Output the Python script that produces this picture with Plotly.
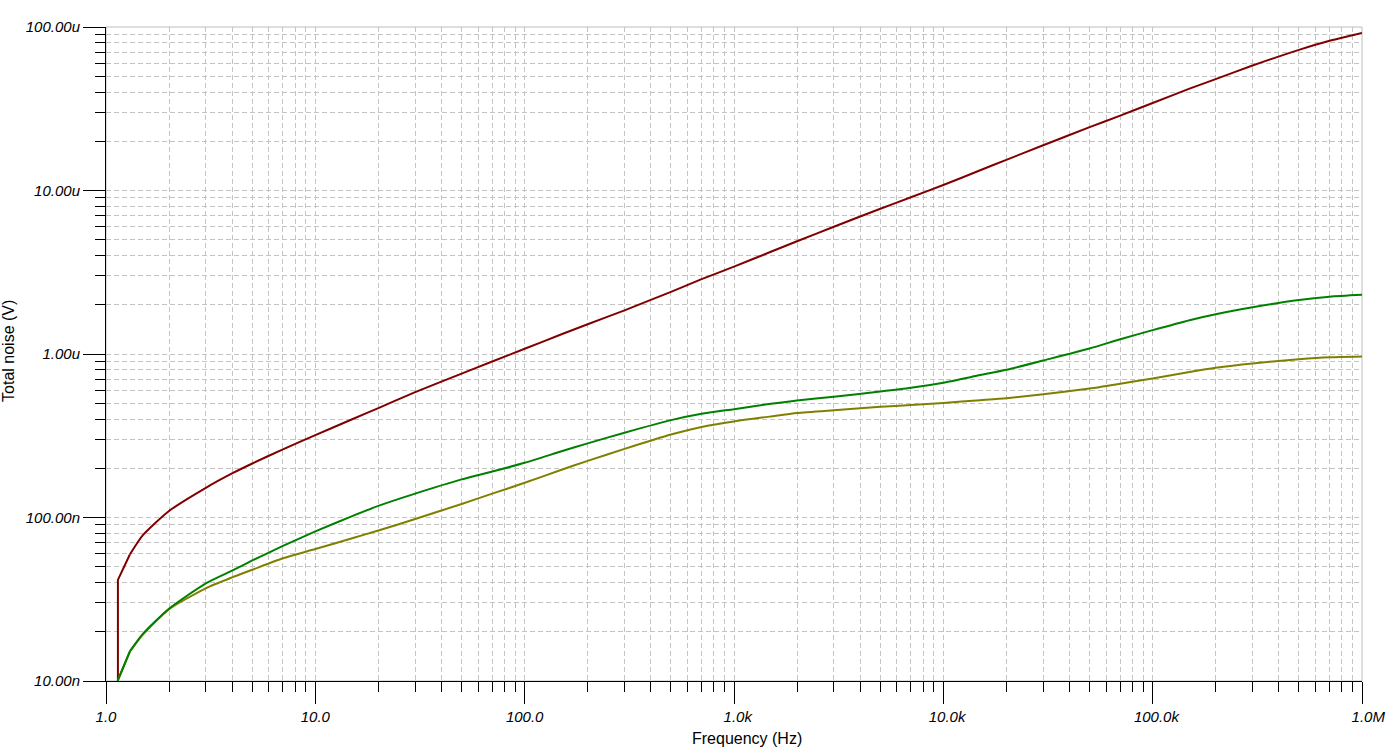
import plotly.graph_objects as go

# ---- data ----
freq_hz = [1.14, 1.14, 1.3, 1.5, 2, 3, 4, 5, 7,
           10, 15, 20, 30, 50, 70,
           100, 150, 200, 300, 500, 700,
           1e3, 1.5e3, 2e3, 3e3, 5e3, 7e3,
           1e4, 1.5e4, 2e4, 3e4, 5e4, 7e4,
           1e5, 1.5e5, 2e5, 3e5, 5e5, 7e5,
           1e6]

noise_red = [1e-9, 4.15e-8, 5.94e-8, 7.80e-8, 1.097e-7, 1.52e-7, 1.86e-7, 2.14e-7, 2.61e-7,
             3.19e-7, 3.99e-7, 4.67e-7, 5.84e-7, 7.59e-7, 9.0e-7,
             1.076e-6, 1.32e-6, 1.52e-6, 1.85e-6, 2.40e-6, 2.87e-6,
             3.42e-6, 4.22e-6, 4.89e-6, 6.0e-6, 7.73e-6, 9.10e-6,
             1.08e-5, 1.33e-5, 1.54e-5, 1.89e-5, 2.44e-5, 2.87e-5,
             3.43e-5, 4.20e-5, 4.80e-5, 5.81e-5, 7.25e-5, 8.24e-5,
             9.20e-5]

noise_green = [1e-9, 1.014e-8, 1.52e-8, 1.94e-8, 2.77e-8, 3.96e-8, 4.73e-8, 5.46e-8, 6.70e-8,
               8.22e-8, 1.02e-7, 1.178e-7, 1.40e-7, 1.71e-7, 1.91e-7,
               2.16e-7, 2.54e-7, 2.84e-7, 3.30e-7, 3.94e-7, 4.31e-7,
               4.60e-7, 4.96e-7, 5.19e-7, 5.48e-7, 5.89e-7, 6.21e-7,
               6.68e-7, 7.43e-7, 8.0e-7, 9.12e-7, 1.08e-6, 1.23e-6,
               1.40e-6, 1.61e-6, 1.75e-6, 1.93e-6, 2.14e-6, 2.24e-6,
               2.30e-6]

noise_olive = [1e-9, 1.01e-8, 1.51e-8, 1.92e-8, 2.75e-8, 3.69e-8, 4.30e-8, 4.79e-8, 5.63e-8,
               6.41e-8, 7.47e-8, 8.32e-8, 9.79e-8, 1.21e-7, 1.40e-7,
               1.63e-7, 1.96e-7, 2.22e-7, 2.63e-7, 3.22e-7, 3.58e-7,
               3.87e-7, 4.15e-7, 4.35e-7, 4.53e-7, 4.75e-7, 4.88e-7,
               5.02e-7, 5.22e-7, 5.37e-7, 5.67e-7, 6.15e-7, 6.58e-7,
               7.09e-7, 7.77e-7, 8.24e-7, 8.76e-7, 9.29e-7, 9.55e-7,
               9.66e-7]

x_tick_vals = [1, 10, 100, 1e3, 1e4, 1e5, 1e6]
x_tick_nums = ["1.0", "10.0", "100.0", "1.0", "10.0", "100.0", "1.0"]
x_tick_suffix = ["", "", "", "k", "k", "k", "M"]
y_tick_vals = [1e-8, 1e-7, 1e-6, 1e-5, 1e-4]
y_tick_text = ["10.00n", "100.00n", "1.00u", "10.00u", "100.00u"]

x_title = "Frequency (Hz)"
y_title = "Total noise (V)"

# ---- styling ----
FONT = "Liberation Sans, Arial, sans-serif"
GRID = "#c4c4c4"
DASH = "5px,3px"

# number part centred on the tick, unit suffix appended (invisible copy in front)
x_tick_text = [
    (f'<span style="color:rgba(0,0,0,0)">{s}</span>{n}{s}' if s else n)
    for n, s in zip(x_tick_nums, x_tick_suffix)
]

x_minor = [k * 10 ** e for e in range(0, 6) for k in range(2, 10)]
y_minor = [k * 10.0 ** e for e in range(-8, -4) for k in range(2, 10)]

fig = go.Figure()
for vals, col in [(noise_red, "#800000"), (noise_olive, "#808000"), (noise_green, "#008000")]:
    # start of the sweep (vertical rise from zero), drawn straight
    fig.add_trace(go.Scatter(x=freq_hz[:3], y=vals[:3], mode="lines",
                             line=dict(color=col, width=2), showlegend=False,
                             hoverinfo="skip"))
    # rest of the curve, smoothed
    fig.add_trace(go.Scatter(x=freq_hz[2:], y=vals[2:], mode="lines",
                             line=dict(color=col, width=2, shape="spline", smoothing=0.6),
                             showlegend=False))

tickfont = dict(family=FONT, size=15, color="#000000", style="italic")

common = dict(
    tickmode="array", tickfont=tickfont,
    ticks="outside", ticklen=22, tickwidth=1, tickcolor="black",
    showline=True, linecolor="black", linewidth=1,
    showgrid=True, gridcolor=GRID, griddash=DASH, gridwidth=1,
    zeroline=False,
)
fig.update_xaxes(
    type="log", range=[0, 6], tickvals=x_tick_vals, ticktext=x_tick_text,
    minor=dict(tickmode="array", tickvals=x_minor, ticks="outside", ticklen=10,
               tickwidth=1, tickcolor="black", showgrid=True, gridcolor=GRID,
               griddash=DASH, gridwidth=1),
    **common,
)
fig.update_yaxes(
    type="log", range=[-8, -4], tickvals=y_tick_vals, ticktext=y_tick_text,
    minor=dict(tickmode="array", tickvals=y_minor, ticks="outside", ticklen=10,
               tickwidth=1, tickcolor="black", showgrid=True, gridcolor=GRID,
               griddash=DASH, gridwidth=1),
    **common,
)

fig.add_shape(type="rect", xref="paper", yref="paper", x0=0, y0=0, x1=1, y1=1,
              line=dict(color="#bcbcbc", width=1), layer="below")

fig.add_annotation(text=x_title, xref="paper", yref="paper", x=0.5104, y=-0.0872,
                   xanchor="center", yanchor="middle", showarrow=False,
                   font=dict(family=FONT, size=16, color="#000000"))
fig.add_annotation(text=y_title, xref="paper", yref="paper", x=-0.0776, y=0.504,
                   xanchor="center", yanchor="middle", showarrow=False, textangle=-90,
                   font=dict(family=FONT, size=16, color="#000000"))

fig.update_layout(
    width=1389, height=753,
    margin=dict(l=106, r=27, t=27, b=72, autoexpand=False),
    paper_bgcolor="white", plot_bgcolor="white",
    showlegend=False,
)

fig.write_html("out.html",
               config={"displayModeBar": False},
               post_script="document.body.style.margin='0';document.body.style.overflow='hidden';")
